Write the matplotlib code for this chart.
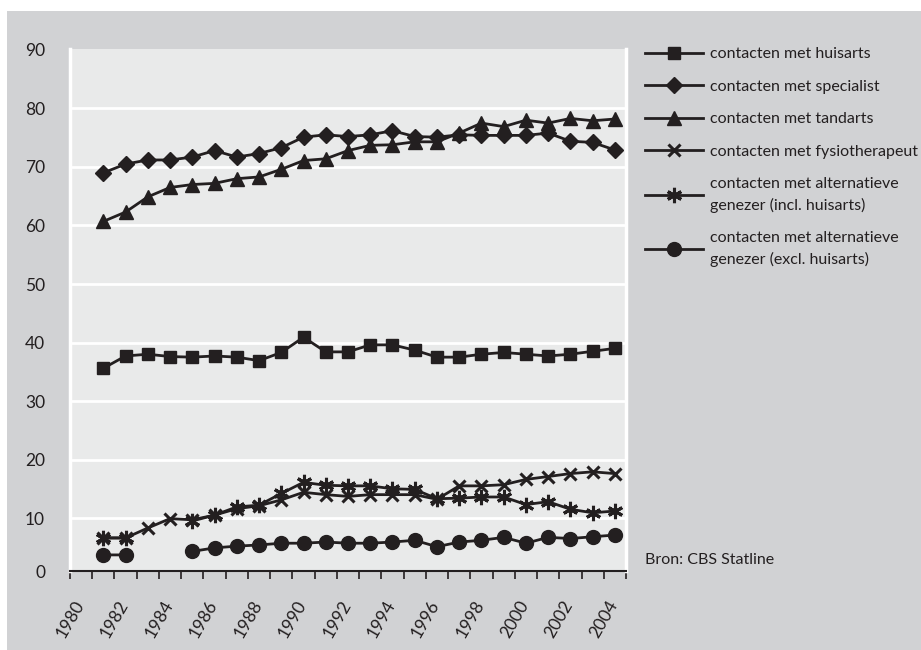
import matplotlib
matplotlib.use("Agg")
import matplotlib.pyplot as plt
import numpy as np
from matplotlib.patches import Rectangle

plt.rcParams['font.family'] = ['Lato', 'DejaVu Sans']

# jaren 1981-2004
jaren = np.arange(1981, 2005)

huisarts = [35.6, 37.7, 38.0, 37.6, 37.5, 37.7, 37.5, 36.9, 38.3, 40.9, 38.4, 38.4,
            39.6, 39.6, 38.7, 37.5, 37.5, 38.0, 38.3, 38.0, 37.7, 38.0, 38.5, 39.0]
specialist = [69.0, 70.5, 71.2, 71.2, 71.7, 72.8, 71.7, 72.3, 73.3, 75.1, 75.5, 75.2,
              75.5, 76.2, 75.2, 75.1, 75.5, 75.4, 75.4, 75.4, 75.8, 74.4, 74.2, 72.9]
tandarts = [60.7, 62.3, 64.9, 66.5, 67.0, 67.2, 68.0, 68.3, 69.6, 71.1, 71.4, 72.8,
            73.7, 73.8, 74.3, 74.3, 75.8, 77.5, 76.9, 78.0, 77.5, 78.3, 77.9, 78.2]
fysio = [6.6, 6.6, 8.3, 9.9, 9.7, 10.5, 11.6, 12.1, 13.1, 14.4, 14.0, 13.7,
         14.0, 14.0, 14.0, 13.2, 15.5, 15.5, 15.7, 16.6, 17.1, 17.6, 17.9, 17.6]
alt_incl = [6.6, 6.6, np.nan, np.nan, 9.5, 10.5, 11.9, 12.2, 14.2, 16.1, 15.6, 15.5,
            15.5, 15.0, 14.9, 13.3, 13.4, 13.6, 13.6, 12.3, 12.8, 11.5, 10.9, 11.2]
alt_excl = [3.7, 3.7, np.nan, np.nan, 4.3, 4.9, 5.2, 5.4, 5.7, 5.7, 5.9, 5.7,
            5.7, 5.9, 6.2, 5.1, 5.9, 6.2, 6.7, 5.7, 6.7, 6.5, 6.8, 7.1]

labels = ['contacten met huisarts',
          'contacten met specialist',
          'contacten met tandarts',
          'contacten met fysiotherapeut',
          'contacten met alternatieve\ngenezer (incl. huisarts)',
          'contacten met alternatieve\ngenezer (excl. huisarts)']

zwart = '#231f20'
W, H = 921, 650
fig = plt.figure(figsize=(W / 100, H / 100), dpi=100)
fig.patch.set_facecolor('white')
fig.patches.append(Rectangle((7 / W, 0), 1 - 7 / W, (H - 11) / H,
                             transform=fig.transFigure, facecolor='#d1d2d4',
                             edgecolor='none', zorder=-10))

ax = fig.add_axes([70 / W, 1 - 571 / H, (626 - 70) / W, (571 - 48.5) / H])
ax.set_facecolor('#e9eaea')

x = jaren + 0.5
ax.plot(x, huisarts, color=zwart, lw=2, marker='s', ms=9, label=labels[0], clip_on=False)
ax.plot(x, specialist, color=zwart, lw=2, marker='D', ms=8, label=labels[1], clip_on=False)
ax.plot(x, tandarts, color=zwart, lw=2, marker='^', ms=10, label=labels[2], clip_on=False)
ax.plot(x, fysio, color=zwart, lw=2, marker='x', ms=9, mew=2.2, label=labels[3], clip_on=False)
ax.plot(x, alt_incl, color=zwart, lw=2, marker=(6, 2, 0), ms=11, mew=2.2, label=labels[4], clip_on=False)
ax.plot(x, alt_excl, color=zwart, lw=2, marker='o', ms=10, label=labels[5], clip_on=False)

ymin, ymax = 0.95, 90.25
ax.set_xlim(1980, 2005)
ax.set_ylim(ymin, ymax)
for v in range(10, 90, 10):
    ax.axhline(v, color='white', lw=2, zorder=0.5)

ax.set_xticks(np.arange(1980, 2006))
ax.set_xticklabels([str(j) if j % 2 == 0 else '' for j in range(1980, 2006)],
                   rotation=60, ha='center', va='top', fontsize=12.5, color=zwart)
ax.tick_params(axis='x', direction='out', length=6, width=1.2, color=zwart, pad=13)
ax.set_yticks([ymin] + list(range(10, 100, 10)))
ax.set_yticklabels(['0'] + [str(v) for v in range(10, 100, 10)], fontsize=12.5, color=zwart)
ax.tick_params(axis='y', length=0, pad=18)

ax.spines['top'].set_visible(False)
ax.spines['left'].set_color('white')
ax.spines['left'].set_linewidth(2.5)
ax.spines['right'].set_color('white')
ax.spines['right'].set_linewidth(2.5)
ax.spines['bottom'].set_color(zwart)
ax.spines['bottom'].set_linewidth(1.5)

leg = ax.legend(loc='upper left', bbox_to_anchor=(645 / W, 1 - 47 / H),
                bbox_transform=fig.transFigure, frameon=False, fontsize=11.5,
                handlelength=3.6, handletextpad=0.45, labelspacing=1.15,
                borderpad=0, borderaxespad=0)
for t in leg.get_texts():
    t.set_color(zwart)
    t.set_linespacing(1.55)

fig.text(645 / W, 1 - 560 / H, 'Bron: CBS Statline', fontsize=11.5, color=zwart,
         ha='left', va='center')

fig.savefig('out.png', dpi=100)
